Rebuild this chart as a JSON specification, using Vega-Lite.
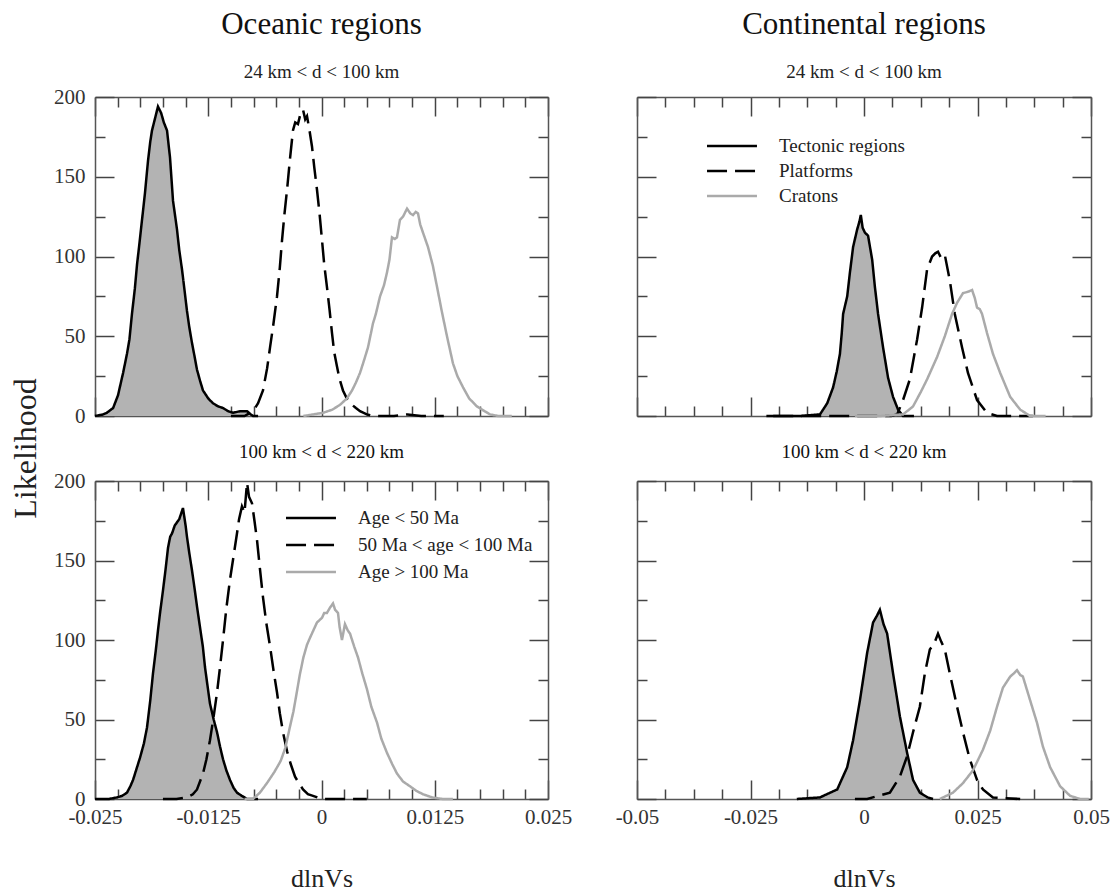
{
  "$schema": "https://vega.github.io/schema/vega-lite/v6.json",
  "padding": {"left": 9, "top": 9, "right": 2, "bottom": 0},
  "background": "white",
  "data": {"values": [
    {"panel":"TL","series":"Age < 50 Ma","x":-0.025,"y":0},{"panel":"TL","series":"Age < 50 Ma","x":-0.0241,"y":1},{"panel":"TL","series":"Age < 50 Ma","x":-0.0237,"y":2},{"panel":"TL","series":"Age < 50 Ma","x":-0.023,"y":5},{"panel":"TL","series":"Age < 50 Ma","x":-0.02246,"y":13},{"panel":"TL","series":"Age < 50 Ma","x":-0.0219,"y":27},{"panel":"TL","series":"Age < 50 Ma","x":-0.02147,"y":39},{"panel":"TL","series":"Age < 50 Ma","x":-0.0212,"y":48},{"panel":"TL","series":"Age < 50 Ma","x":-0.02092,"y":64},{"panel":"TL","series":"Age < 50 Ma","x":-0.0206,"y":80},{"panel":"TL","series":"Age < 50 Ma","x":-0.02036,"y":95},{"panel":"TL","series":"Age < 50 Ma","x":-0.0201,"y":108},{"panel":"TL","series":"Age < 50 Ma","x":-0.01981,"y":123},{"panel":"TL","series":"Age < 50 Ma","x":-0.01948,"y":140},{"panel":"TL","series":"Age < 50 Ma","x":-0.01915,"y":160},{"panel":"TL","series":"Age < 50 Ma","x":-0.0189,"y":172},{"panel":"TL","series":"Age < 50 Ma","x":-0.01871,"y":179},{"panel":"TL","series":"Age < 50 Ma","x":-0.0184,"y":186},{"panel":"TL","series":"Age < 50 Ma","x":-0.01805,"y":194},{"panel":"TL","series":"Age < 50 Ma","x":-0.0177,"y":190},{"panel":"TL","series":"Age < 50 Ma","x":-0.0174,"y":184},{"panel":"TL","series":"Age < 50 Ma","x":-0.01705,"y":179},{"panel":"TL","series":"Age < 50 Ma","x":-0.01672,"y":162},{"panel":"TL","series":"Age < 50 Ma","x":-0.01639,"y":135},{"panel":"TL","series":"Age < 50 Ma","x":-0.01595,"y":117},{"panel":"TL","series":"Age < 50 Ma","x":-0.0157,"y":104},{"panel":"TL","series":"Age < 50 Ma","x":-0.0154,"y":92},{"panel":"TL","series":"Age < 50 Ma","x":-0.0151,"y":78},{"panel":"TL","series":"Age < 50 Ma","x":-0.01485,"y":66},{"panel":"TL","series":"Age < 50 Ma","x":-0.0146,"y":56},{"panel":"TL","series":"Age < 50 Ma","x":-0.0143,"y":46},{"panel":"TL","series":"Age < 50 Ma","x":-0.014,"y":37},{"panel":"TL","series":"Age < 50 Ma","x":-0.01374,"y":29},{"panel":"TL","series":"Age < 50 Ma","x":-0.0134,"y":22},{"panel":"TL","series":"Age < 50 Ma","x":-0.01308,"y":16},{"panel":"TL","series":"Age < 50 Ma","x":-0.0125,"y":11},{"panel":"TL","series":"Age < 50 Ma","x":-0.01198,"y":8},{"panel":"TL","series":"Age < 50 Ma","x":-0.0114,"y":6},{"panel":"TL","series":"Age < 50 Ma","x":-0.01087,"y":5},{"panel":"TL","series":"Age < 50 Ma","x":-0.0103,"y":3},{"panel":"TL","series":"Age < 50 Ma","x":-0.00977,"y":2},{"panel":"TL","series":"Age < 50 Ma","x":-0.009,"y":3},{"panel":"TL","series":"Age < 50 Ma","x":-0.00822,"y":3},{"panel":"TL","series":"Age < 50 Ma","x":-0.0078,"y":1},{"panel":"TL","series":"Age < 50 Ma","x":-0.00756,"y":0},{"panel":"TL","series":"Age < 50 Ma","x":-0.007,"y":0},
    {"panel":"TL","series":"50 Ma < age < 100 Ma","x":-0.01,"y":0},{"panel":"TL","series":"50 Ma < age < 100 Ma","x":-0.0085,"y":0},{"panel":"TL","series":"50 Ma < age < 100 Ma","x":-0.00756,"y":3},{"panel":"TL","series":"50 Ma < age < 100 Ma","x":-0.007,"y":8},{"panel":"TL","series":"50 Ma < age < 100 Ma","x":-0.00646,"y":16},{"panel":"TL","series":"50 Ma < age < 100 Ma","x":-0.006,"y":30},{"panel":"TL","series":"50 Ma < age < 100 Ma","x":-0.00568,"y":43},{"panel":"TL","series":"50 Ma < age < 100 Ma","x":-0.0053,"y":58},{"panel":"TL","series":"50 Ma < age < 100 Ma","x":-0.00491,"y":75},{"panel":"TL","series":"50 Ma < age < 100 Ma","x":-0.0046,"y":93},{"panel":"TL","series":"50 Ma < age < 100 Ma","x":-0.00436,"y":110},{"panel":"TL","series":"50 Ma < age < 100 Ma","x":-0.0041,"y":126},{"panel":"TL","series":"50 Ma < age < 100 Ma","x":-0.0038,"y":142},{"panel":"TL","series":"50 Ma < age < 100 Ma","x":-0.0035,"y":160},{"panel":"TL","series":"50 Ma < age < 100 Ma","x":-0.00315,"y":179},{"panel":"TL","series":"50 Ma < age < 100 Ma","x":-0.0029,"y":184},{"panel":"TL","series":"50 Ma < age < 100 Ma","x":-0.0026,"y":183},{"panel":"TL","series":"50 Ma < age < 100 Ma","x":-0.0023,"y":190},{"panel":"TL","series":"50 Ma < age < 100 Ma","x":-0.00204,"y":192},{"panel":"TL","series":"50 Ma < age < 100 Ma","x":-0.0018,"y":186},{"panel":"TL","series":"50 Ma < age < 100 Ma","x":-0.0016,"y":188},{"panel":"TL","series":"50 Ma < age < 100 Ma","x":-0.00135,"y":180},{"panel":"TL","series":"50 Ma < age < 100 Ma","x":-0.00105,"y":169},{"panel":"TL","series":"50 Ma < age < 100 Ma","x":-0.0008,"y":156},{"panel":"TL","series":"50 Ma < age < 100 Ma","x":-0.0005,"y":142},{"panel":"TL","series":"50 Ma < age < 100 Ma","x":-0.0002,"y":126},{"panel":"TL","series":"50 Ma < age < 100 Ma","x":0.00006,"y":110},{"panel":"TL","series":"50 Ma < age < 100 Ma","x":0.0003,"y":95},{"panel":"TL","series":"50 Ma < age < 100 Ma","x":0.0006,"y":81},{"panel":"TL","series":"50 Ma < age < 100 Ma","x":0.0009,"y":66},{"panel":"TL","series":"50 Ma < age < 100 Ma","x":0.00116,"y":52},{"panel":"TL","series":"50 Ma < age < 100 Ma","x":0.0014,"y":40},{"panel":"TL","series":"50 Ma < age < 100 Ma","x":0.00171,"y":31},{"panel":"TL","series":"50 Ma < age < 100 Ma","x":0.002,"y":23},{"panel":"TL","series":"50 Ma < age < 100 Ma","x":0.00237,"y":16},{"panel":"TL","series":"50 Ma < age < 100 Ma","x":0.0028,"y":11},{"panel":"TL","series":"50 Ma < age < 100 Ma","x":0.00337,"y":7},{"panel":"TL","series":"50 Ma < age < 100 Ma","x":0.0038,"y":5},{"panel":"TL","series":"50 Ma < age < 100 Ma","x":0.00425,"y":3},{"panel":"TL","series":"50 Ma < age < 100 Ma","x":0.005,"y":1},{"panel":"TL","series":"50 Ma < age < 100 Ma","x":0.00568,"y":0},{"panel":"TL","series":"50 Ma < age < 100 Ma","x":0.008,"y":0},{"panel":"TL","series":"50 Ma < age < 100 Ma","x":0.0095,"y":1},{"panel":"TL","series":"50 Ma < age < 100 Ma","x":0.011,"y":0},{"panel":"TL","series":"50 Ma < age < 100 Ma","x":0.0135,"y":0},
    {"panel":"TL","series":"Age > 100 Ma","x":-0.002,"y":0},{"panel":"TL","series":"Age > 100 Ma","x":0.00017,"y":2},{"panel":"TL","series":"Age > 100 Ma","x":0.0012,"y":4},{"panel":"TL","series":"Age > 100 Ma","x":0.00204,"y":7},{"panel":"TL","series":"Age > 100 Ma","x":0.0028,"y":11},{"panel":"TL","series":"Age > 100 Ma","x":0.00337,"y":16},{"panel":"TL","series":"Age > 100 Ma","x":0.0038,"y":21},{"panel":"TL","series":"Age > 100 Ma","x":0.00425,"y":27},{"panel":"TL","series":"Age > 100 Ma","x":0.0047,"y":35},{"panel":"TL","series":"Age > 100 Ma","x":0.00513,"y":43},{"panel":"TL","series":"Age > 100 Ma","x":0.00568,"y":58},{"panel":"TL","series":"Age > 100 Ma","x":0.006,"y":64},{"panel":"TL","series":"Age > 100 Ma","x":0.00646,"y":75},{"panel":"TL","series":"Age > 100 Ma","x":0.0069,"y":82},{"panel":"TL","series":"Age > 100 Ma","x":0.00723,"y":90},{"panel":"TL","series":"Age > 100 Ma","x":0.0075,"y":98},{"panel":"TL","series":"Age > 100 Ma","x":0.00778,"y":112},{"panel":"TL","series":"Age > 100 Ma","x":0.0081,"y":111},{"panel":"TL","series":"Age > 100 Ma","x":0.00833,"y":112},{"panel":"TL","series":"Age > 100 Ma","x":0.00866,"y":123},{"panel":"TL","series":"Age > 100 Ma","x":0.009,"y":125},{"panel":"TL","series":"Age > 100 Ma","x":0.00944,"y":130},{"panel":"TL","series":"Age > 100 Ma","x":0.0098,"y":127},{"panel":"TL","series":"Age > 100 Ma","x":0.0101,"y":126},{"panel":"TL","series":"Age > 100 Ma","x":0.0104,"y":128},{"panel":"TL","series":"Age > 100 Ma","x":0.01065,"y":127},{"panel":"TL","series":"Age > 100 Ma","x":0.0109,"y":120},{"panel":"TL","series":"Age > 100 Ma","x":0.0112,"y":115},{"panel":"TL","series":"Age > 100 Ma","x":0.01175,"y":106},{"panel":"TL","series":"Age > 100 Ma","x":0.0123,"y":94},{"panel":"TL","series":"Age > 100 Ma","x":0.01275,"y":81},{"panel":"TL","series":"Age > 100 Ma","x":0.0133,"y":65},{"panel":"TL","series":"Age > 100 Ma","x":0.01385,"y":50},{"panel":"TL","series":"Age > 100 Ma","x":0.01451,"y":33},{"panel":"TL","series":"Age > 100 Ma","x":0.015,"y":25},{"panel":"TL","series":"Age > 100 Ma","x":0.01562,"y":18},{"panel":"TL","series":"Age > 100 Ma","x":0.0163,"y":11},{"panel":"TL","series":"Age > 100 Ma","x":0.01716,"y":6},{"panel":"TL","series":"Age > 100 Ma","x":0.018,"y":3},{"panel":"TL","series":"Age > 100 Ma","x":0.0186,"y":1},{"panel":"TL","series":"Age > 100 Ma","x":0.0195,"y":0},{"panel":"TL","series":"Age > 100 Ma","x":0.021,"y":0},
    {"panel":"BL","series":"Age < 50 Ma","x":-0.025,"y":0},{"panel":"BL","series":"Age < 50 Ma","x":-0.0235,"y":0},{"panel":"BL","series":"Age < 50 Ma","x":-0.02257,"y":1},{"panel":"BL","series":"Age < 50 Ma","x":-0.022,"y":2},{"panel":"BL","series":"Age < 50 Ma","x":-0.02147,"y":4},{"panel":"BL","series":"Age < 50 Ma","x":-0.0211,"y":8},{"panel":"BL","series":"Age < 50 Ma","x":-0.0208,"y":12},{"panel":"BL","series":"Age < 50 Ma","x":-0.02003,"y":26},{"panel":"BL","series":"Age < 50 Ma","x":-0.0196,"y":35},{"panel":"BL","series":"Age < 50 Ma","x":-0.01926,"y":45},{"panel":"BL","series":"Age < 50 Ma","x":-0.0189,"y":62},{"panel":"BL","series":"Age < 50 Ma","x":-0.0186,"y":79},{"panel":"BL","series":"Age < 50 Ma","x":-0.0183,"y":93},{"panel":"BL","series":"Age < 50 Ma","x":-0.01805,"y":106},{"panel":"BL","series":"Age < 50 Ma","x":-0.0178,"y":118},{"panel":"BL","series":"Age < 50 Ma","x":-0.0175,"y":131},{"panel":"BL","series":"Age < 50 Ma","x":-0.0172,"y":145},{"panel":"BL","series":"Age < 50 Ma","x":-0.01694,"y":158},{"panel":"BL","series":"Age < 50 Ma","x":-0.0167,"y":165},{"panel":"BL","series":"Age < 50 Ma","x":-0.0165,"y":167},{"panel":"BL","series":"Age < 50 Ma","x":-0.0162,"y":172},{"panel":"BL","series":"Age < 50 Ma","x":-0.01595,"y":174},{"panel":"BL","series":"Age < 50 Ma","x":-0.0157,"y":176},{"panel":"BL","series":"Age < 50 Ma","x":-0.01529,"y":183},{"panel":"BL","series":"Age < 50 Ma","x":-0.015,"y":172},{"panel":"BL","series":"Age < 50 Ma","x":-0.01485,"y":165},{"panel":"BL","series":"Age < 50 Ma","x":-0.0146,"y":155},{"panel":"BL","series":"Age < 50 Ma","x":-0.0143,"y":144},{"panel":"BL","series":"Age < 50 Ma","x":-0.014,"y":132},{"panel":"BL","series":"Age < 50 Ma","x":-0.01374,"y":121},{"panel":"BL","series":"Age < 50 Ma","x":-0.01341,"y":108},{"panel":"BL","series":"Age < 50 Ma","x":-0.0131,"y":96},{"panel":"BL","series":"Age < 50 Ma","x":-0.01286,"y":83},{"panel":"BL","series":"Age < 50 Ma","x":-0.0126,"y":72},{"panel":"BL","series":"Age < 50 Ma","x":-0.01231,"y":60},{"panel":"BL","series":"Age < 50 Ma","x":-0.0119,"y":50},{"panel":"BL","series":"Age < 50 Ma","x":-0.01153,"y":42},{"panel":"BL","series":"Age < 50 Ma","x":-0.0112,"y":33},{"panel":"BL","series":"Age < 50 Ma","x":-0.01087,"y":25},{"panel":"BL","series":"Age < 50 Ma","x":-0.0105,"y":18},{"panel":"BL","series":"Age < 50 Ma","x":-0.0101,"y":12},{"panel":"BL","series":"Age < 50 Ma","x":-0.0097,"y":7},{"panel":"BL","series":"Age < 50 Ma","x":-0.00933,"y":4},{"panel":"BL","series":"Age < 50 Ma","x":-0.0088,"y":2},{"panel":"BL","series":"Age < 50 Ma","x":-0.00822,"y":0},{"panel":"BL","series":"Age < 50 Ma","x":-0.007,"y":0},
    {"panel":"BL","series":"50 Ma < age < 100 Ma","x":-0.0175,"y":0},{"panel":"BL","series":"50 Ma < age < 100 Ma","x":-0.016,"y":0},{"panel":"BL","series":"50 Ma < age < 100 Ma","x":-0.01485,"y":1},{"panel":"BL","series":"50 Ma < age < 100 Ma","x":-0.0142,"y":3},{"panel":"BL","series":"50 Ma < age < 100 Ma","x":-0.01374,"y":6},{"panel":"BL","series":"50 Ma < age < 100 Ma","x":-0.01308,"y":16},{"panel":"BL","series":"50 Ma < age < 100 Ma","x":-0.0127,"y":25},{"panel":"BL","series":"50 Ma < age < 100 Ma","x":-0.01231,"y":37},{"panel":"BL","series":"50 Ma < age < 100 Ma","x":-0.0119,"y":52},{"panel":"BL","series":"50 Ma < age < 100 Ma","x":-0.01153,"y":67},{"panel":"BL","series":"50 Ma < age < 100 Ma","x":-0.0112,"y":83},{"panel":"BL","series":"50 Ma < age < 100 Ma","x":-0.01087,"y":100},{"panel":"BL","series":"50 Ma < age < 100 Ma","x":-0.0105,"y":120},{"panel":"BL","series":"50 Ma < age < 100 Ma","x":-0.0101,"y":138},{"panel":"BL","series":"50 Ma < age < 100 Ma","x":-0.0097,"y":153},{"panel":"BL","series":"50 Ma < age < 100 Ma","x":-0.00933,"y":167},{"panel":"BL","series":"50 Ma < age < 100 Ma","x":-0.0091,"y":176},{"panel":"BL","series":"50 Ma < age < 100 Ma","x":-0.00878,"y":184},{"panel":"BL","series":"50 Ma < age < 100 Ma","x":-0.0085,"y":180},{"panel":"BL","series":"50 Ma < age < 100 Ma","x":-0.00822,"y":199},{"panel":"BL","series":"50 Ma < age < 100 Ma","x":-0.008,"y":190},{"panel":"BL","series":"50 Ma < age < 100 Ma","x":-0.00767,"y":186},{"panel":"BL","series":"50 Ma < age < 100 Ma","x":-0.0074,"y":175},{"panel":"BL","series":"50 Ma < age < 100 Ma","x":-0.00712,"y":163},{"panel":"BL","series":"50 Ma < age < 100 Ma","x":-0.0068,"y":145},{"panel":"BL","series":"50 Ma < age < 100 Ma","x":-0.00646,"y":127},{"panel":"BL","series":"50 Ma < age < 100 Ma","x":-0.0061,"y":111},{"panel":"BL","series":"50 Ma < age < 100 Ma","x":-0.00568,"y":96},{"panel":"BL","series":"50 Ma < age < 100 Ma","x":-0.0053,"y":81},{"panel":"BL","series":"50 Ma < age < 100 Ma","x":-0.00491,"y":67},{"panel":"BL","series":"50 Ma < age < 100 Ma","x":-0.0046,"y":54},{"panel":"BL","series":"50 Ma < age < 100 Ma","x":-0.00425,"y":42},{"panel":"BL","series":"50 Ma < age < 100 Ma","x":-0.0038,"y":30},{"panel":"BL","series":"50 Ma < age < 100 Ma","x":-0.0034,"y":22},{"panel":"BL","series":"50 Ma < age < 100 Ma","x":-0.00292,"y":14},{"panel":"BL","series":"50 Ma < age < 100 Ma","x":-0.0025,"y":10},{"panel":"BL","series":"50 Ma < age < 100 Ma","x":-0.00204,"y":6},{"panel":"BL","series":"50 Ma < age < 100 Ma","x":-0.0015,"y":3},{"panel":"BL","series":"50 Ma < age < 100 Ma","x":-0.00094,"y":2},{"panel":"BL","series":"50 Ma < age < 100 Ma","x":0,"y":0},{"panel":"BL","series":"50 Ma < age < 100 Ma","x":0.005,"y":0},
    {"panel":"BL","series":"Age > 100 Ma","x":-0.0085,"y":0},{"panel":"BL","series":"Age > 100 Ma","x":-0.00756,"y":0},{"panel":"BL","series":"Age > 100 Ma","x":-0.0068,"y":4},{"panel":"BL","series":"Age > 100 Ma","x":-0.00602,"y":10},{"panel":"BL","series":"Age > 100 Ma","x":-0.0052,"y":17},{"panel":"BL","series":"Age > 100 Ma","x":-0.0045,"y":24},{"panel":"BL","series":"Age > 100 Ma","x":-0.004,"y":32},{"panel":"BL","series":"Age > 100 Ma","x":-0.0035,"y":45},{"panel":"BL","series":"Age > 100 Ma","x":-0.0031,"y":55},{"panel":"BL","series":"Age > 100 Ma","x":-0.0027,"y":68},{"panel":"BL","series":"Age > 100 Ma","x":-0.0024,"y":78},{"panel":"BL","series":"Age > 100 Ma","x":-0.002,"y":89},{"panel":"BL","series":"Age > 100 Ma","x":-0.0016,"y":97},{"panel":"BL","series":"Age > 100 Ma","x":-0.0013,"y":101},{"panel":"BL","series":"Age > 100 Ma","x":-0.0009,"y":106},{"panel":"BL","series":"Age > 100 Ma","x":-0.0005,"y":111},{"panel":"BL","series":"Age > 100 Ma","x":0.00006,"y":114},{"panel":"BL","series":"Age > 100 Ma","x":0.0003,"y":117},{"panel":"BL","series":"Age > 100 Ma","x":0.0006,"y":117},{"panel":"BL","series":"Age > 100 Ma","x":0.0009,"y":120},{"panel":"BL","series":"Age > 100 Ma","x":0.00127,"y":123},{"panel":"BL","series":"Age > 100 Ma","x":0.0015,"y":119},{"panel":"BL","series":"Age > 100 Ma","x":0.00182,"y":117},{"panel":"BL","series":"Age > 100 Ma","x":0.002,"y":108},{"panel":"BL","series":"Age > 100 Ma","x":0.00226,"y":100},{"panel":"BL","series":"Age > 100 Ma","x":0.00259,"y":110},{"panel":"BL","series":"Age > 100 Ma","x":0.0029,"y":106},{"panel":"BL","series":"Age > 100 Ma","x":0.00315,"y":104},{"panel":"BL","series":"Age > 100 Ma","x":0.0036,"y":96},{"panel":"BL","series":"Age > 100 Ma","x":0.00403,"y":89},{"panel":"BL","series":"Age > 100 Ma","x":0.0045,"y":79},{"panel":"BL","series":"Age > 100 Ma","x":0.00502,"y":69},{"panel":"BL","series":"Age > 100 Ma","x":0.0055,"y":58},{"panel":"BL","series":"Age > 100 Ma","x":0.00613,"y":48},{"panel":"BL","series":"Age > 100 Ma","x":0.0066,"y":38},{"panel":"BL","series":"Age > 100 Ma","x":0.00723,"y":29},{"panel":"BL","series":"Age > 100 Ma","x":0.0078,"y":22},{"panel":"BL","series":"Age > 100 Ma","x":0.00833,"y":16},{"panel":"BL","series":"Age > 100 Ma","x":0.009,"y":11},{"panel":"BL","series":"Age > 100 Ma","x":0.00977,"y":8},{"panel":"BL","series":"Age > 100 Ma","x":0.0105,"y":5},{"panel":"BL","series":"Age > 100 Ma","x":0.0112,"y":3},{"panel":"BL","series":"Age > 100 Ma","x":0.0122,"y":1},{"panel":"BL","series":"Age > 100 Ma","x":0.01341,"y":0},{"panel":"BL","series":"Age > 100 Ma","x":0.0145,"y":0},
    {"panel":"TR","series":"Tectonic regions","x":-0.0215,"y":0},{"panel":"TR","series":"Tectonic regions","x":-0.014,"y":0},{"panel":"TR","series":"Tectonic regions","x":-0.0097,"y":1},{"panel":"TR","series":"Tectonic regions","x":-0.0081,"y":8},{"panel":"TR","series":"Tectonic regions","x":-0.0068,"y":18},{"panel":"TR","series":"Tectonic regions","x":-0.006,"y":28},{"panel":"TR","series":"Tectonic regions","x":-0.0053,"y":39},{"panel":"TR","series":"Tectonic regions","x":-0.0049,"y":52},{"panel":"TR","series":"Tectonic regions","x":-0.0046,"y":64},{"panel":"TR","series":"Tectonic regions","x":-0.0037,"y":75},{"panel":"TR","series":"Tectonic regions","x":-0.0031,"y":90},{"panel":"TR","series":"Tectonic regions","x":-0.0024,"y":106},{"panel":"TR","series":"Tectonic regions","x":-0.0015,"y":117},{"panel":"TR","series":"Tectonic regions","x":-0.001,"y":122},{"panel":"TR","series":"Tectonic regions","x":-0.0007,"y":126},{"panel":"TR","series":"Tectonic regions","x":-0.0003,"y":118},{"panel":"TR","series":"Tectonic regions","x":0.0002,"y":115},{"panel":"TR","series":"Tectonic regions","x":0.0009,"y":113},{"panel":"TR","series":"Tectonic regions","x":0.0018,"y":98},{"panel":"TR","series":"Tectonic regions","x":0.0024,"y":81},{"panel":"TR","series":"Tectonic regions","x":0.0031,"y":64},{"panel":"TR","series":"Tectonic regions","x":0.0042,"y":43},{"panel":"TR","series":"Tectonic regions","x":0.0053,"y":24},{"panel":"TR","series":"Tectonic regions","x":0.0064,"y":12},{"panel":"TR","series":"Tectonic regions","x":0.0075,"y":4},{"panel":"TR","series":"Tectonic regions","x":0.0086,"y":0},{"panel":"TR","series":"Tectonic regions","x":0.011,"y":0},
    {"panel":"TR","series":"Platforms","x":-0.02,"y":0},{"panel":"TR","series":"Platforms","x":0.006,"y":0},{"panel":"TR","series":"Platforms","x":0.0073,"y":1},{"panel":"TR","series":"Platforms","x":0.0086,"y":10},{"panel":"TR","series":"Platforms","x":0.0101,"y":23},{"panel":"TR","series":"Platforms","x":0.0117,"y":48},{"panel":"TR","series":"Platforms","x":0.0128,"y":68},{"panel":"TR","series":"Platforms","x":0.0139,"y":92},{"panel":"TR","series":"Platforms","x":0.015,"y":100},{"panel":"TR","series":"Platforms","x":0.0157,"y":102},{"panel":"TR","series":"Platforms","x":0.0163,"y":103},{"panel":"TR","series":"Platforms","x":0.017,"y":99},{"panel":"TR","series":"Platforms","x":0.0178,"y":101},{"panel":"TR","series":"Platforms","x":0.0189,"y":85},{"panel":"TR","series":"Platforms","x":0.02,"y":64},{"panel":"TR","series":"Platforms","x":0.0216,"y":43},{"panel":"TR","series":"Platforms","x":0.0229,"y":27},{"panel":"TR","series":"Platforms","x":0.0249,"y":10},{"panel":"TR","series":"Platforms","x":0.0271,"y":2},{"panel":"TR","series":"Platforms","x":0.0293,"y":0},{"panel":"TR","series":"Platforms","x":0.0372,"y":0},
    {"panel":"TR","series":"Cratons","x":-0.002,"y":0},{"panel":"TR","series":"Cratons","x":0.0035,"y":0},{"panel":"TR","series":"Cratons","x":0.0086,"y":1},{"panel":"TR","series":"Cratons","x":0.0108,"y":6},{"panel":"TR","series":"Cratons","x":0.0125,"y":15},{"panel":"TR","series":"Cratons","x":0.0139,"y":23},{"panel":"TR","series":"Cratons","x":0.0161,"y":37},{"panel":"TR","series":"Cratons","x":0.0178,"y":50},{"panel":"TR","series":"Cratons","x":0.0194,"y":64},{"panel":"TR","series":"Cratons","x":0.0205,"y":71},{"panel":"TR","series":"Cratons","x":0.0218,"y":77},{"panel":"TR","series":"Cratons","x":0.023,"y":78},{"panel":"TR","series":"Cratons","x":0.0238,"y":79},{"panel":"TR","series":"Cratons","x":0.0244,"y":74},{"panel":"TR","series":"Cratons","x":0.0249,"y":68},{"panel":"TR","series":"Cratons","x":0.0255,"y":67},{"panel":"TR","series":"Cratons","x":0.026,"y":64},{"panel":"TR","series":"Cratons","x":0.0271,"y":52},{"panel":"TR","series":"Cratons","x":0.0284,"y":39},{"panel":"TR","series":"Cratons","x":0.03,"y":27},{"panel":"TR","series":"Cratons","x":0.0322,"y":12},{"panel":"TR","series":"Cratons","x":0.0344,"y":4},{"panel":"TR","series":"Cratons","x":0.0366,"y":0},{"panel":"TR","series":"Cratons","x":0.04,"y":0},
    {"panel":"BR","series":"Tectonic regions","x":-0.0148,"y":0},{"panel":"BR","series":"Tectonic regions","x":-0.0097,"y":1},{"panel":"BR","series":"Tectonic regions","x":-0.0059,"y":6},{"panel":"BR","series":"Tectonic regions","x":-0.0037,"y":20},{"panel":"BR","series":"Tectonic regions","x":-0.0024,"y":37},{"panel":"BR","series":"Tectonic regions","x":-0.0009,"y":62},{"panel":"BR","series":"Tectonic regions","x":0.0007,"y":92},{"panel":"BR","series":"Tectonic regions","x":0.002,"y":111},{"panel":"BR","series":"Tectonic regions","x":0.0028,"y":115},{"panel":"BR","series":"Tectonic regions","x":0.0035,"y":119},{"panel":"BR","series":"Tectonic regions","x":0.0043,"y":110},{"panel":"BR","series":"Tectonic regions","x":0.0051,"y":104},{"panel":"BR","series":"Tectonic regions","x":0.0064,"y":79},{"panel":"BR","series":"Tectonic regions","x":0.0079,"y":52},{"panel":"BR","series":"Tectonic regions","x":0.0095,"y":29},{"panel":"BR","series":"Tectonic regions","x":0.0108,"y":12},{"panel":"BR","series":"Tectonic regions","x":0.0123,"y":4},{"panel":"BR","series":"Tectonic regions","x":0.014,"y":1},{"panel":"BR","series":"Tectonic regions","x":0.0152,"y":0},
    {"panel":"BR","series":"Platforms","x":-0.002,"y":0},{"panel":"BR","series":"Platforms","x":0.0007,"y":0},{"panel":"BR","series":"Platforms","x":0.0057,"y":4},{"panel":"BR","series":"Platforms","x":0.0079,"y":14},{"panel":"BR","series":"Platforms","x":0.0095,"y":27},{"panel":"BR","series":"Platforms","x":0.0108,"y":42},{"panel":"BR","series":"Platforms","x":0.0123,"y":58},{"panel":"BR","series":"Platforms","x":0.0134,"y":79},{"panel":"BR","series":"Platforms","x":0.0145,"y":94},{"panel":"BR","series":"Platforms","x":0.0155,"y":98},{"panel":"BR","series":"Platforms","x":0.0163,"y":104},{"panel":"BR","series":"Platforms","x":0.017,"y":99},{"panel":"BR","series":"Platforms","x":0.0178,"y":94},{"panel":"BR","series":"Platforms","x":0.0189,"y":79},{"panel":"BR","series":"Platforms","x":0.0205,"y":58},{"panel":"BR","series":"Platforms","x":0.0218,"y":42},{"panel":"BR","series":"Platforms","x":0.0233,"y":25},{"panel":"BR","series":"Platforms","x":0.0249,"y":12},{"panel":"BR","series":"Platforms","x":0.0262,"y":6},{"panel":"BR","series":"Platforms","x":0.0284,"y":1},{"panel":"BR","series":"Platforms","x":0.0344,"y":0},
    {"panel":"BR","series":"Cratons","x":0.0167,"y":0},{"panel":"BR","series":"Cratons","x":0.0196,"y":4},{"panel":"BR","series":"Cratons","x":0.0218,"y":10},{"panel":"BR","series":"Cratons","x":0.024,"y":18},{"panel":"BR","series":"Cratons","x":0.0262,"y":31},{"panel":"BR","series":"Cratons","x":0.0278,"y":43},{"panel":"BR","series":"Cratons","x":0.0293,"y":58},{"panel":"BR","series":"Cratons","x":0.0306,"y":70},{"panel":"BR","series":"Cratons","x":0.0322,"y":77},{"panel":"BR","series":"Cratons","x":0.033,"y":79},{"panel":"BR","series":"Cratons","x":0.0337,"y":81},{"panel":"BR","series":"Cratons","x":0.0344,"y":78},{"panel":"BR","series":"Cratons","x":0.035,"y":77},{"panel":"BR","series":"Cratons","x":0.0366,"y":62},{"panel":"BR","series":"Cratons","x":0.0381,"y":48},{"panel":"BR","series":"Cratons","x":0.0394,"y":33},{"panel":"BR","series":"Cratons","x":0.041,"y":20},{"panel":"BR","series":"Cratons","x":0.0432,"y":8},{"panel":"BR","series":"Cratons","x":0.0454,"y":2},{"panel":"BR","series":"Cratons","x":0.0476,"y":0},{"panel":"BR","series":"Cratons","x":0.0495,"y":0}
  ]},
  "columns": 2,
  "spacing": {"row": 65, "column": 89},
  "bounds": "flush",
  "resolve": {"scale": {"color": "independent", "strokeDash": "independent"}, "legend": {"color": "independent", "strokeDash": "independent"}},
  "concat": [
    {
      "width": 453, "height": 319,
      "title": {"text": "Oceanic regions", "subtitle": "24 km < d < 100 km", "fontSize": 31, "subtitleFontSize": 19, "subtitlePadding": 22, "offset": 3},
      "transform": [{"filter": "datum.panel === 'TL'"}],
      "layer": [
        {"transform": [{"filter": "datum.series === 'Age < 50 Ma'"}],
         "mark": {"type": "area", "color": "#b3b3b3"},
         "encoding": {
           "x": {"field": "x", "type": "quantitative", "scale": {"domain": [-0.025, 0.025], "nice": false, "zero": false},
                 "axis": {"orient": "bottom", "values": [-0.025,-0.0225,-0.02,-0.0175,-0.015,-0.0125,-0.01,-0.0075,-0.005,-0.0025,0,0.0025,0.005,0.0075,0.01,0.0125,0.015,0.0175,0.02,0.0225,0.025],
                          "tickSize": {"condition": {"test": "indexof([-0.025,-0.0125,0,0.0125,0.025], datum.value) >= 0", "value": -19}, "value": -10},
                          "labels": false, "title": null}},
           "y": {"field": "y", "type": "quantitative", "scale": {"domain": [0, 200], "nice": false},
                 "axis": {"orient": "left", "values": [0,25,50,75,100,125,150,175,200],
                          "tickSize": {"condition": {"test": "datum.value % 50 === 0", "value": -19}, "value": -10},
                          "labelExpr": "datum.value % 50 === 0 ? '' + datum.value : ''", "labelPadding": 29,
                          "title": "Likelihood", "titleFontSize": 32, "titleX": -70, "titleY": 351, "titleAngle": -90, "titleAlign": "center", "titleBaseline": "middle"}}
         }},
        {"mark": {"type": "line", "strokeWidth": 2.5},
         "encoding": {
           "x": {"field": "x", "type": "quantitative",
                 "axis": {"orient": "top", "values": [-0.025,-0.0225,-0.02,-0.0175,-0.015,-0.0125,-0.01,-0.0075,-0.005,-0.0025,0,0.0025,0.005,0.0075,0.01,0.0125,0.015,0.0175,0.02,0.0225,0.025],
                          "tickSize": {"condition": {"test": "indexof([-0.025,-0.0125,0,0.0125,0.025], datum.value) >= 0", "value": -19}, "value": -10},
                          "labels": false, "title": null}},
           "y": {"field": "y", "type": "quantitative",
                 "axis": {"orient": "right", "values": [0,25,50,75,100,125,150,175,200],
                          "tickSize": {"condition": {"test": "datum.value % 50 === 0", "value": -19}, "value": -10},
                          "labels": false, "title": null}},
           "color": {"field": "series", "type": "nominal", "scale": {"domain": ["Age < 50 Ma", "50 Ma < age < 100 Ma", "Age > 100 Ma"], "range": ["#000000", "#000000", "#aaaaaa"]}, "legend": null},
           "strokeDash": {"field": "series", "type": "nominal", "scale": {"domain": ["Age < 50 Ma", "50 Ma < age < 100 Ma", "Age > 100 Ma"], "range": [[1, 0], [20, 8], [1, 0]]}, "legend": null}
         }}
      ]
    },
    {
      "width": 454, "height": 319,
      "title": {"text": "Continental regions", "subtitle": "24 km < d < 100 km", "fontSize": 31, "subtitleFontSize": 19, "subtitlePadding": 22, "offset": 13},
      "transform": [{"filter": "datum.panel === 'TR'"}],
      "layer": [
        {"transform": [{"filter": "datum.series === 'Tectonic regions'"}],
         "mark": {"type": "area", "color": "#b3b3b3"},
         "encoding": {
           "x": {"field": "x", "type": "quantitative", "scale": {"domain": [-0.05, 0.05], "nice": false, "zero": false},
                 "axis": {"orient": "bottom", "values": [-0.05,-0.04375,-0.0375,-0.03125,-0.025,-0.01875,-0.0125,-0.00625,0,0.00625,0.0125,0.01875,0.025,0.03125,0.0375,0.04375,0.05],
                          "tickSize": {"condition": {"test": "indexof([-0.05,-0.025,0,0.025,0.05], datum.value) >= 0", "value": -19}, "value": -10},
                          "labels": false, "title": null}},
           "y": {"field": "y", "type": "quantitative", "scale": {"domain": [0, 200], "nice": false},
                 "axis": {"orient": "left", "values": [0,25,50,75,100,125,150,175,200],
                          "tickSize": {"condition": {"test": "datum.value % 50 === 0", "value": -19}, "value": -10},
                          "labels": false, "title": null}}
         }},
        {"mark": {"type": "line", "strokeWidth": 2.5},
         "encoding": {
           "x": {"field": "x", "type": "quantitative",
                 "axis": {"orient": "top", "values": [-0.05,-0.04375,-0.0375,-0.03125,-0.025,-0.01875,-0.0125,-0.00625,0,0.00625,0.0125,0.01875,0.025,0.03125,0.0375,0.04375,0.05],
                          "tickSize": {"condition": {"test": "indexof([-0.05,-0.025,0,0.025,0.05], datum.value) >= 0", "value": -19}, "value": -10},
                          "labels": false, "title": null}},
           "y": {"field": "y", "type": "quantitative",
                 "axis": {"orient": "right", "values": [0,25,50,75,100,125,150,175,200],
                          "tickSize": {"condition": {"test": "datum.value % 50 === 0", "value": -19}, "value": -10},
                          "labels": false, "title": null}},
           "color": {"field": "series", "type": "nominal", "scale": {"domain": ["Tectonic regions", "Platforms", "Cratons"], "range": ["#000000", "#000000", "#aaaaaa"]},
                     "legend": {"orient": "none", "legendX": 80, "legendY": 34, "title": null, "symbolType": "M-1.85,0H1.85", "symbolSize": 729, "symbolStrokeWidth": 2.5, "labelFontSize": 19, "labelOffset": 32, "labelLimit": 400, "rowPadding": 0}},
           "strokeDash": {"field": "series", "type": "nominal", "scale": {"domain": ["Tectonic regions", "Platforms", "Cratons"], "range": [[1, 0], [20, 8], [1, 0]]},
                     "legend": {"orient": "none", "legendX": 80, "legendY": 34, "title": null, "symbolType": "M-1.85,0H1.85", "symbolSize": 729, "symbolStrokeWidth": 2.5, "labelFontSize": 19, "labelOffset": 32, "labelLimit": 400, "rowPadding": 0}}
         }}
      ]
    },
    {
      "width": 453, "height": 318,
      "title": {"text": "100 km < d < 220 km", "fontSize": 19, "offset": 8},
      "transform": [{"filter": "datum.panel === 'BL'"}],
      "layer": [
        {"transform": [{"filter": "datum.series === 'Age < 50 Ma'"}],
         "mark": {"type": "area", "color": "#b3b3b3"},
         "encoding": {
           "x": {"field": "x", "type": "quantitative", "scale": {"domain": [-0.025, 0.025], "nice": false, "zero": false},
                 "axis": {"orient": "bottom", "values": [-0.025,-0.0225,-0.02,-0.0175,-0.015,-0.0125,-0.01,-0.0075,-0.005,-0.0025,0,0.0025,0.005,0.0075,0.01,0.0125,0.015,0.0175,0.02,0.0225,0.025],
                          "tickSize": {"condition": {"test": "indexof([-0.025,-0.0125,0,0.0125,0.025], datum.value) >= 0", "value": -19}, "value": -10},
                          "labelExpr": "indexof([-0.025,-0.0125,0,0.0125,0.025], datum.value) >= 0 ? '' + datum.value : ''", "labelPadding": 26,
                          "title": "dlnVs", "titleFontSize": 26, "titleX": 226.5, "titleY": 79, "titleBaseline": "middle"}},
           "y": {"field": "y", "type": "quantitative", "scale": {"domain": [0, 200], "nice": false},
                 "axis": {"orient": "left", "values": [0,25,50,75,100,125,150,175,200],
                          "tickSize": {"condition": {"test": "datum.value % 50 === 0", "value": -19}, "value": -10},
                          "labelExpr": "datum.value % 50 === 0 ? '' + datum.value : ''", "labelPadding": 29, "title": null}}
         }},
        {"mark": {"type": "line", "strokeWidth": 2.5},
         "encoding": {
           "x": {"field": "x", "type": "quantitative",
                 "axis": {"orient": "top", "values": [-0.025,-0.0225,-0.02,-0.0175,-0.015,-0.0125,-0.01,-0.0075,-0.005,-0.0025,0,0.0025,0.005,0.0075,0.01,0.0125,0.015,0.0175,0.02,0.0225,0.025],
                          "tickSize": {"condition": {"test": "indexof([-0.025,-0.0125,0,0.0125,0.025], datum.value) >= 0", "value": -19}, "value": -10},
                          "labels": false, "title": null}},
           "y": {"field": "y", "type": "quantitative",
                 "axis": {"orient": "right", "values": [0,25,50,75,100,125,150,175,200],
                          "tickSize": {"condition": {"test": "datum.value % 50 === 0", "value": -19}, "value": -10},
                          "labels": false, "title": null}},
           "color": {"field": "series", "type": "nominal", "scale": {"domain": ["Age < 50 Ma", "50 Ma < age < 100 Ma", "Age > 100 Ma"], "range": ["#000000", "#000000", "#aaaaaa"]},
                     "legend": {"orient": "none", "legendX": 201, "legendY": 22, "title": null, "symbolType": "M-1.85,0H1.85", "symbolSize": 729, "symbolStrokeWidth": 2.5, "labelFontSize": 19, "labelOffset": 32, "labelLimit": 400, "rowPadding": 2}},
           "strokeDash": {"field": "series", "type": "nominal", "scale": {"domain": ["Age < 50 Ma", "50 Ma < age < 100 Ma", "Age > 100 Ma"], "range": [[1, 0], [20, 8], [1, 0]]},
                     "legend": {"orient": "none", "legendX": 201, "legendY": 22, "title": null, "symbolType": "M-1.85,0H1.85", "symbolSize": 729, "symbolStrokeWidth": 2.5, "labelFontSize": 19, "labelOffset": 32, "labelLimit": 400, "rowPadding": 2}}
         }}
      ]
    },
    {
      "width": 454, "height": 318,
      "title": {"text": "100 km < d < 220 km", "fontSize": 19, "offset": 18},
      "transform": [{"filter": "datum.panel === 'BR'"}],
      "layer": [
        {"transform": [{"filter": "datum.series === 'Tectonic regions'"}],
         "mark": {"type": "area", "color": "#b3b3b3"},
         "encoding": {
           "x": {"field": "x", "type": "quantitative", "scale": {"domain": [-0.05, 0.05], "nice": false, "zero": false},
                 "axis": {"orient": "bottom", "values": [-0.05,-0.04375,-0.0375,-0.03125,-0.025,-0.01875,-0.0125,-0.00625,0,0.00625,0.0125,0.01875,0.025,0.03125,0.0375,0.04375,0.05],
                          "tickSize": {"condition": {"test": "indexof([-0.05,-0.025,0,0.025,0.05], datum.value) >= 0", "value": -19}, "value": -10},
                          "labelExpr": "indexof([-0.05,-0.025,0,0.025,0.05], datum.value) >= 0 ? '' + datum.value : ''", "labelPadding": 26,
                          "title": "dlnVs", "titleFontSize": 26, "titleX": 227, "titleY": 79, "titleBaseline": "middle"}},
           "y": {"field": "y", "type": "quantitative", "scale": {"domain": [0, 200], "nice": false},
                 "axis": {"orient": "left", "values": [0,25,50,75,100,125,150,175,200],
                          "tickSize": {"condition": {"test": "datum.value % 50 === 0", "value": -19}, "value": -10},
                          "labels": false, "title": null}}
         }},
        {"mark": {"type": "line", "strokeWidth": 2.5},
         "encoding": {
           "x": {"field": "x", "type": "quantitative",
                 "axis": {"orient": "top", "values": [-0.05,-0.04375,-0.0375,-0.03125,-0.025,-0.01875,-0.0125,-0.00625,0,0.00625,0.0125,0.01875,0.025,0.03125,0.0375,0.04375,0.05],
                          "tickSize": {"condition": {"test": "indexof([-0.05,-0.025,0,0.025,0.05], datum.value) >= 0", "value": -19}, "value": -10},
                          "labels": false, "title": null}},
           "y": {"field": "y", "type": "quantitative",
                 "axis": {"orient": "right", "values": [0,25,50,75,100,125,150,175,200],
                          "tickSize": {"condition": {"test": "datum.value % 50 === 0", "value": -19}, "value": -10},
                          "labels": false, "title": null}},
           "color": {"field": "series", "type": "nominal", "scale": {"domain": ["Tectonic regions", "Platforms", "Cratons"], "range": ["#000000", "#000000", "#aaaaaa"]}, "legend": null},
           "strokeDash": {"field": "series", "type": "nominal", "scale": {"domain": ["Tectonic regions", "Platforms", "Cratons"], "range": [[1, 0], [20, 8], [1, 0]]}, "legend": null}
         }}
      ]
    }
  ],
  "config": {
    "font": "Liberation Serif",
    "view": {"stroke": null},
    "axis": {"grid": false, "domainColor": "#555555", "domainWidth": 1.5, "tickColor": "#444444", "tickWidth": 1.5,
             "labelFont": "Liberation Serif", "labelFontSize": 21, "labelColor": "#333333", "labelFlush": false, "labelOverlap": false, "labelBound": false,
             "titleFont": "Liberation Serif", "titleFontWeight": "normal", "titleColor": "#222222"},
    "legend": {"labelFont": "Liberation Serif", "labelColor": "#222222"},
    "title": {"font": "Liberation Serif", "fontWeight": "normal", "color": "#111111", "subtitleFont": "Liberation Serif", "subtitleColor": "#222222", "anchor": "middle"}
  }
}
